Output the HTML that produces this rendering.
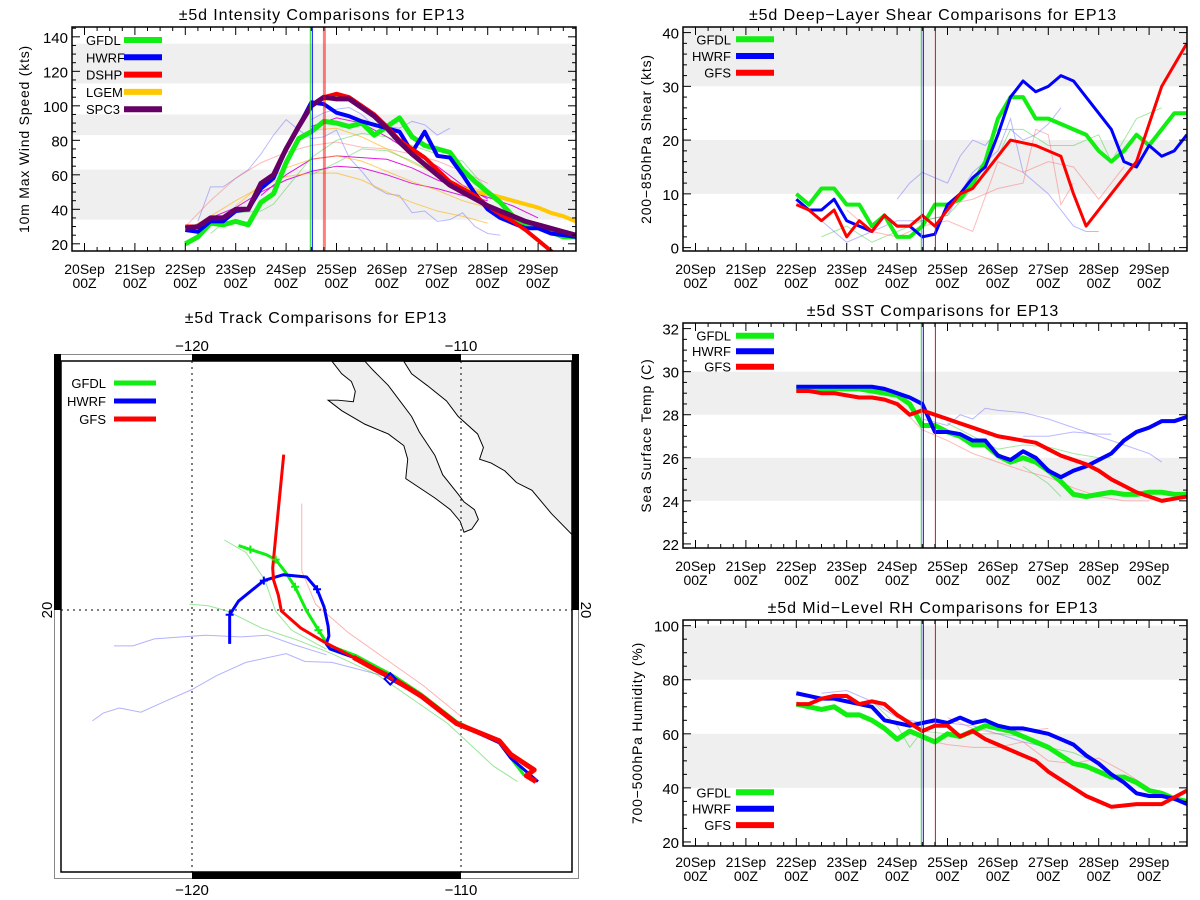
<!DOCTYPE html>
<html><head><meta charset="utf-8"><style>
html,body{margin:0;padding:0;background:#fff;}
svg{display:block;font-family:"Liberation Sans",sans-serif;}
</style></head><body>
<svg id="c" width="1200" height="900" viewBox="0 0 1200 900" xmlns="http://www.w3.org/2000/svg"></svg>
<script>
// ===== shared categories =====
const dayLabels = ["20Sep","21Sep","22Sep","23Sep","24Sep","25Sep","26Sep","27Sep","28Sep","29Sep"];
const times = [2,2.25,2.5,2.75,3,3.25,3.5,3.75,4,4.25,4.5,4.75,5,5.25,5.5,5.75,6,6.25,6.5,6.75,7,7.25,7.5,7.75,8,8.25,8.5,8.75,9,9.25,9.5,9.75];
const initTimes = [4.48, 4.52, 4.76];
// ===== intensity =====
const intGFDL = [20,24,32,31,33,31,44,49,67,81,85,91,90,88,90,83,88,93,82,77,75,73,63,56,50,44,36,30,30,27,24,24];
const intHWRF = [28,27,33,33,39,40,52,58,75,88,102,101,96,94,91,89,87,85,73,85,71,70,60,49,40,35,32,29,29,26,25,24];
const intDSHP = [30,30,35,35,40,40,55,60,75,88,100,105,107,105,100,95,88,80,75,70,63,56,52,48,42,37,33,28,22,16,10,5];
const intLGEM = [null,null,null,null,null,null,null,null,null,null,null,104,105,104,99,94,88,80,73,66,60,55,52,50,49,47,45,43,41,38,36,33];
const intSPC3 = [29,30,35,35,40,40,55,60,75,88,100,105,104,104,99,94,87,79,72,66,60,54,50,46,42,39,36,33,31,29,27,25];
const intThinBlue1 = [[2.25,33],[2.5,53],[2.75,53],[3,58],[3.25,63],[3.5,72],[3.75,83],[4,92],[4.25,86],[4.5,81],[4.75,82],[5,86],[5.25,70],[5.5,62],[5.75,53],[6,49],[6.25,48],[6.5,38],[6.75,39],[7,33],[7.25,34],[7.5,38],[7.75,30],[8,26],[8.25,25]];
const intThinBlue2 = [[4.5,92],[4.75,96],[5,98],[5.25,99],[5.5,95],[5.75,88],[6,88],[6.25,87],[6.5,91],[6.75,89],[7,83],[7.25,87]];
const intThinMag1 = [[2.5,35],[3,41],[3.5,50],[4,57],[4.5,62],[5,65],[5.5,64],[6,60],[6.5,55],[7,52],[7.5,48],[8,45]];
const intThinMag2 = [[3.5,48],[4,60],[4.5,69],[5,71],[5.5,70],[6,69],[6.5,64],[7,57],[7.5,52],[8,47],[8.5,42],[9,35]];
const intThinMag3 = [[4.5,88],[5,93],[5.5,90],[6,82],[6.5,73],[7,65],[7.5,54],[8,46]];
const intThinPink = [[2,30],[2.5,45],[3,58],[3.5,67],[4,73],[4.5,77],[5,79],[5.5,76],[6,75],[6.5,72],[7,68],[7.5,62],[8,55]];
const intThinYel1 = [[2,28],[2.5,36],[3,45],[3.5,53],[4,59],[4.5,61],[5,61],[5.5,57],[6,50],[6.5,44],[7,39],[7.5,36],[8,32]];
const intThinYel2 = [[3,42],[3.5,54],[4,64],[4.5,69],[5,71],[5.5,68],[6,62],[6.5,56],[7,51],[7.5,45],[8,41]];
const intThinYel3 = [[4.5,86],[5,87],[5.5,82],[6,75],[6.5,67],[7,60],[7.5,54],[8,50]];
const intThinGrn1 = [[2.5,26],[3,38],[3.5,39],[3.75,43],[4,52],[4.5,70],[5,80],[5.5,84],[6,82],[6.5,77],[7,72],[7.5,68],[8,51]];
const intThinGrn2 = [[4.5,60],[5,67],[5.5,75],[6,74],[6.5,68],[7,60]];
// ===== shear =====
const shrGFDL = [10,8,11,11,8,8,4,6,2,2,4,8,8,9,12,16,24,28,28,24,24,23,22,21,18,16,18,21,19,22,25,25];
const shrHWRF = [9,7,7,9,5,4,3,6,4,4,2,2.5,8,10,13,15,21,28,31,29,30,32,31,28,25,22,16,15,19,17,18,21];
const shrGFS  = [8,7,5,7,2,5,3,6,4,4,6,4,7,10,11,14,17,20,19.5,19,18,17,10,4,7,10,13,16,23,30,34,38];
const shrThinBlue1 = [[4,9],[4.25,12],[4.5,14],[4.75,13],[5,12],[5.25,17],[5.5,20],[5.75,19],[6,22],[6.25,22],[6.5,20],[6.75,21],[7,23],[7.25,26]];
const shrThinBlue2 = [[2.5,5],[3,1],[3.5,3],[4,5],[4.5,5],[5,6],[5.5,14],[6,18],[6.25,24],[6.5,14],[7,10],[7.5,4],[7.75,3],[8,3]];
const shrThinGrn = [[2.5,2],[3,4],[3.5,1],[4,3],[4.5,5],[5,6],[5.5,11],[6,17],[6.25,22],[6.5,22],[7,19],[7.5,19],[8,21],[8.25,16],[8.75,24],[9.25,26]];
const shrThinRed1 = [[3,7],[3.5,3],[4,2],[4.5,4],[5,5],[5.5,3],[6,16],[6.5,14],[7,16],[7.5,15],[8,9],[8.5,15]];
const shrThinRed2 = [[5,8],[5.5,9],[6,11],[6.5,12],[6.75,22],[7,21],[7.25,8],[7.5,12]];
// ===== SST =====
const sstGFDL = [29.2,29.2,29.2,29.2,29.2,29.2,29.1,29.0,28.9,28.5,27.5,27.5,27.2,27.0,26.6,26.6,26.1,25.8,26.0,25.8,25.4,24.9,24.3,24.2,24.3,24.4,24.3,24.3,24.4,24.4,24.3,24.3];
const sstHWRF = [29.3,29.3,29.3,29.3,29.3,29.3,29.3,29.2,29.0,28.8,28.5,27.2,27.2,27.1,26.8,26.8,26.1,25.9,26.3,26.0,25.4,25.1,25.4,25.6,25.9,26.2,26.8,27.2,27.4,27.7,27.7,27.9];
const sstGFS  = [29.1,29.1,29.0,29.0,28.9,28.8,28.8,28.7,28.5,28.0,28.2,28.0,27.8,27.6,27.4,27.2,27.0,26.9,26.8,26.7,26.4,26.1,25.9,25.7,25.4,25.0,24.7,24.4,24.2,24.0,24.1,24.2];
const sstThinBlue1 = [[4.5,27.8],[5,27.5],[5.25,28.0],[5.5,27.8],[5.75,28.3],[6,28.2],[6.5,28.1],[7,27.8],[7.5,27.4],[8,27.0],[8.5,26.6],[9,26.2],[9.25,25.8]];
const sstThinBlue2 = [[6.5,27.0],[7,27.0],[7.5,27.2],[8,27.1],[8.25,27.1]];
const sstThinRed = [[4,28.5],[4.5,27.3],[5,26.8],[5.5,26.2],[6,25.8],[6.5,25.4],[7,25.1],[7.5,24.6],[8,24.2],[8.5,24.0],[9,24.0]];
const sstThinGrn1 = [[5,27.6],[5.5,27.0],[6,26.4],[6.5,26.6],[7,26.5],[7.5,26.2],[8,26.0],[8.25,26.0]];
const sstThinGrn2 = [[6.5,25.6],[7,24.8],[7.25,24.2]];
// ===== RH =====
const rhGFDL = [71,70,69,70,67,67,65,62,58,61,59,57,60,59,61,63,62,61,59,57,55,52,49,48,46,44,44,42,39,38,36,35];
const rhHWRF = [75,74,73,73,72,71,70,65,64,63,64,65,64,66,64,65,63,62,62,61,60,58,56,52,49,45,42,38,37,37,36,34];
const rhGFS  = [71,71,73,74,74,71,72,71,67,64,61,63,63,59,61,58,56,54,52,50,46,43,40,37,35,33,33.5,34,34,34,36.5,39];
const rhThinBlue = [[2.5,75],[3,76],[3.5,72],[4,66],[4.5,64],[5,64],[5.5,63],[6,60],[6.5,57],[7,55]];
const rhThinGrn = [[3.5,72],[4,63],[4.25,55],[4.5,61],[5,60],[5.5,60],[6,60],[6.5,59],[7,55],[7.5,53],[8,49]];
const rhThinRed1 = [[4.5,58],[5,56],[5.5,55],[6,55],[6.5,57],[7,50],[7.5,49],[8,51],[8.5,46],[9,40]];
const rhThinRed2 = [[5,66],[5.5,62],[6,60],[6.5,61],[7,62]];
// ===== tracks (lon, lat) =====
const trkGFSLon = [-116.59,-116.82,-117.0,-116.97,-116.79,-116.68,-115.95,-115.09,-114.0,-113.21,-112.63,-111.47,-110.17,-108.58,-108.15,-107.28,-107.57,-107.21];
const trkGFSLat = [25.55,23.30,21.50,21.08,20.53,19.97,19.35,18.86,18.31,17.89,17.61,16.92,15.95,15.33,14.84,14.29,14.08,13.87];
const trkHWRFLon = [-118.60,-118.60,-118.27,-117.33,-116.60,-115.74,-115.35,-115.09,-114.94,-114.91,-115.01,-114.87,-114.0,-113.21,-112.63,-111.47,-110.17,-108.58,-108.15,-107.14];
const trkHWRFLat = [18.79,19.83,20.32,21.05,21.26,21.18,20.74,20.11,19.42,19.07,18.79,18.61,18.31,17.89,17.54,16.92,15.95,15.26,14.71,13.87];
const trkGFDLLon = [-118.27,-117.83,-117.25,-116.89,-116.53,-116.17,-115.74,-115.30,-114.94,-113.93,-112.49,-111.47,-110.17,-108.58,-107.64];
const trkGFDLLat = [22.30,22.16,21.98,21.80,21.36,20.83,19.97,19.28,18.75,18.38,17.64,16.99,16.02,15.26,14.08];
const trkThinBlue1 = [[-123.7,16.04],[-123.3,16.32],[-122.7,16.5],[-121.9,16.35],[-121.0,16.74],[-120.0,17.16],[-119.1,17.65],[-118.0,18.13],[-116.5,18.44],[-115.8,18.16],[-114.8,18.13],[-112.6,17.58]];
const trkThinBlue2 = [[-122.9,18.72],[-122.2,18.72],[-121.4,18.97],[-119.5,19.1],[-118.2,19.04],[-117.2,19.1],[-116.2,18.76],[-115.0,18.4]];
const trkThinGrn1 = [[-120.1,20.21],[-119.4,20.15],[-118.7,19.97],[-117.4,19.35],[-116.1,18.93],[-114.8,18.44],[-113.1,17.68],[-110.5,15.95],[-108.8,14.43],[-107.9,13.87]];
const trkThinGrn2 = [[-118.8,22.5],[-118.0,22.06],[-117.3,21.09],[-116.9,19.97],[-116.3,19.28],[-115.0,18.6]];
const trkThinRed = [[-115.92,23.8],[-115.92,21.4],[-115.4,20.2],[-114.2,19.2],[-111.4,17.3],[-110.0,16.2]];
// ===== map ticks =====
const mapLonTicks = [-120,-110];
const mapLatTicks = [20];

const NS="http://www.w3.org/2000/svg";
const svg=document.getElementById('c');
function el(tag,attrs,parent){const e=document.createElementNS(NS,tag);for(const k in attrs)e.setAttribute(k,attrs[k]);(parent||svg).appendChild(e);return e;}
function txt(s,attrs,parent){const e=el('text',attrs,parent);e.textContent=s;return e;}

function panel(cfg){
  const g=el('g',{});
  
  
  const L=cfg.L,R=cfg.R,T=cfg.T,B=cfg.B;
  const x=t=>L+12.5+t*50.4;
  const y=v=>B-(v-cfg.vB)/(cfg.vT-cfg.vB)*(B-T);
  const cid='clip-'+cfg.name;
  const cp=el('clipPath',{id:cid},g);el('rect',{x:L,y:T,width:R-L,height:B-T},cp);
  cfg.bands.forEach(b=>{const y1=y(Math.min(b[1],cfg.vT)),y2=y(b[0]);const r=el('rect',{x:L,y:y1,width:R-L,height:y2-y1,fill:'#efefef'},g);
    
    });
  const tt=txt(cfg.title,{x:(L+R)/2-2,y:cfg.titleY,'text-anchor':'middle','font-size':16,'letter-spacing':'0.9'},g);
  
  
  const yt=txt(cfg.ytitle,{x:0,y:0,'text-anchor':'middle','font-size':14,'letter-spacing':'0.8',transform:`translate(${cfg.ytX},${(T+B)/2}) rotate(-90)`},g);
  
  
  const ln=el('g',{'clip-path':`url(#${cid})`},g);
  cfg.thin.forEach(th=>{const p=el('polyline',{points:th.d.map(q=>x(q[0])+','+y(q[1])).join(' '),fill:'none',stroke:th.c,'stroke-width':1,'stroke-opacity':th.o||0.45},ln);
    
    });
  const icol=['#22dd22','#0000ff','#ff0000'];
  const isInt=cfg.name==='intensity-panel';
  initTimes.forEach((t,i)=>{const l=el('line',{x1:x(t),x2:x(t),y1:T,y2:B,stroke:icol[i],'stroke-width':(i==2&&isInt)?3:1,'stroke-opacity':(i==2&&isInt)?0.5:1},g);
    
    });
  cfg.series.forEach(s=>{let segs=[],cur=[];times.forEach((t,i)=>{const v=s.d[i];if(v==null){if(cur.length)segs.push(cur);cur=[];}else cur.push(x(t)+','+y(v));});if(cur.length)segs.push(cur);
    segs.forEach(sg=>{const p=el('polyline',{points:sg.join(' '),fill:'none',stroke:s.c,'stroke-width':s.w,'stroke-linejoin':'round'},ln);
      
      });});
  el('rect',{x:L,y:T,width:R-L,height:B-T,fill:'none',stroke:'#000','stroke-width':1.5},g);
  for(let k=0;k<=39;k++){const t=k*0.25;const xx=x(t);if(xx>R)break;const len=k%4==0?8:4;
    el('line',{x1:xx,x2:xx,y1:B,y2:B-len,stroke:'#000','stroke-width':1},g);
    el('line',{x1:xx,x2:xx,y1:T,y2:T+len,stroke:'#000','stroke-width':1},g);}
  dayLabels.forEach((d,i)=>{const xx=x(i);
    const a=txt(d,{x:xx,y:cfg.xlY,'text-anchor':'middle','font-size':14},g);
    
    
    const b=txt('00Z',{x:xx,y:cfg.xlY+14,'text-anchor':'middle','font-size':14},g);
    
    });
  for(let v=Math.ceil(cfg.vB/cfg.minor)*cfg.minor;v<=cfg.vT;v+=cfg.minor){const yy=y(v);const maj=Math.abs(v/cfg.major-Math.round(v/cfg.major))<1e-6;const len=maj?8:4;
    el('line',{x1:L,x2:L+len,y1:yy,y2:yy,stroke:'#000','stroke-width':1},g);
    el('line',{x1:R,x2:R-len,y1:yy,y2:yy,stroke:'#000','stroke-width':1},g);}
  cfg.yticks.forEach(v=>{const a=txt(String(v),{x:L-4,y:y(v)+6,'text-anchor':'end','font-size':15},g);
    
    });
  cfg.legend.forEach((s,i)=>{const ly=cfg.legY+i*cfg.legDy;
    const lg=el('g',{},g);
    
    
    txt(s.n,{x:cfg.legTx,y:ly+5,'text-anchor':cfg.legAnchor,'font-size':13,'fill':'#000'},lg);
    el('line',{x1:cfg.legX1,x2:cfg.legX2,y1:ly,y2:ly,stroke:s.c,'stroke-width':6},lg);});
}
const G='#11ee11',Bl='#0000ff',Rd='#ff0000',Y='#ffc800',P='#660066';
const iS=[{n:'GFDL',d:intGFDL,c:G,w:5},{n:'HWRF',d:intHWRF,c:Bl,w:4},{n:'DSHP',d:intDSHP,c:Rd,w:4},{n:'LGEM',d:intLGEM,c:Y,w:4},{n:'SPC3',d:intSPC3,c:P,w:5}];
panel({name:'intensity-panel',L:72,R:576,T:27,B:251,vB:15.83,vT:145.7,title:'±5d Intensity Comparisons for EP13',titleY:20,ytitle:'10m Max Wind Speed (kts)',ytX:29,
 bands:[[34,63],[83,95],[113,136]],major:20,minor:5,yticks:[20,40,60,80,100,120,140],xlY:274,
 thin:[{d:intThinBlue1,c:'#6666ff'},{d:intThinBlue2,c:'#6666ff'},{d:intThinMag1,c:'#dd00dd',o:0.9},{d:intThinMag2,c:'#dd00dd',o:0.9},{d:intThinMag3,c:'#dd00dd',o:0.9},{d:intThinPink,c:'#ff6666'},{d:intThinYel1,c:'#ffb000',o:0.6},{d:intThinYel2,c:'#ffb000',o:0.6},{d:intThinYel3,c:'#ffb000',o:0.6},{d:intThinGrn1,c:'#33cc33'},{d:intThinGrn2,c:'#33cc33'}],
 series:[iS[3],iS[0],iS[1],iS[2],iS[4]],legend:iS,legY:40,legDy:17.3,legTx:86,legAnchor:'start',legX1:124,legX2:162});
const sS=[{n:'GFDL',d:shrGFDL,c:G,w:4},{n:'HWRF',d:shrHWRF,c:Bl,w:3},{n:'GFS',d:shrGFS,c:Rd,w:3}];
panel({name:'shear-panel',L:683,R:1187,T:27,B:251,vB:-0.63,vT:41.04,title:'±5d Deep−Layer Shear Comparisons for EP13',titleY:20,ytitle:'200−850hPa Shear (kts)',ytX:651,
 bands:[[10,20],[30,45]],major:10,minor:2,yticks:[0,10,20,30,40],xlY:274,
 thin:[{d:shrThinBlue1,c:'#6666ff'},{d:shrThinBlue2,c:'#6666ff'},{d:shrThinGrn,c:'#33cc33'},{d:shrThinRed1,c:'#ff6666'},{d:shrThinRed2,c:'#ff6666'}],
 series:sS,legend:sS,legY:39.3,legDy:16.7,legTx:731,legAnchor:'end',legX1:736,legX2:774});
const tS=[{n:'GFDL',d:sstGFDL,c:G,w:5},{n:'HWRF',d:sstHWRF,c:Bl,w:4},{n:'GFS',d:sstGFS,c:Rd,w:4}];
panel({name:'sst-panel',L:683,R:1187,T:323,B:548,vB:21.81,vT:32.26,title:'±5d SST Comparisons for EP13',titleY:316,ytitle:'Sea Surface Temp (C)',ytX:651,
 bands:[[24,26],[28,30]],major:2,minor:0.5,yticks:[22,24,26,28,30,32],xlY:571,
 thin:[{d:sstThinBlue1,c:'#6666ff'},{d:sstThinBlue2,c:'#6666ff'},{d:sstThinRed,c:'#ff6666'},{d:sstThinGrn1,c:'#33cc33'},{d:sstThinGrn2,c:'#33cc33'}],
 series:tS,legend:tS,legY:335.7,legDy:15.5,legTx:731,legAnchor:'end',legX1:736,legX2:774});
const rS=[{n:'GFDL',d:rhGFDL,c:G,w:5},{n:'HWRF',d:rhHWRF,c:Bl,w:4},{n:'GFS',d:rhGFS,c:Rd,w:4}];
panel({name:'rh-panel',L:683,R:1187,T:620,B:846,vB:18.5,vT:102.1,title:'±5d Mid−Level RH Comparisons for EP13',titleY:613,ytitle:'700−500hPa Humidity (%)',ytX:642,
 bands:[[40,60],[80,100]],major:20,minor:5,yticks:[20,40,60,80,100],xlY:867,
 thin:[{d:rhThinBlue,c:'#6666ff'},{d:rhThinGrn,c:'#33cc33'},{d:rhThinRed1,c:'#ff6666'},{d:rhThinRed2,c:'#ff6666'}],
 series:rS,legend:rS,legY:792.3,legDy:16.4,legTx:731,legAnchor:'end',legX1:736,legX2:774});

(function(){
  const g=el('g',{});
  
  
  const mx=lon=>192+(lon+120)*26.9;
  const my=lat=>610-(lat-20)*28;
  const t=txt('±5d Track Comparisons for EP13',{x:316,y:323,'text-anchor':'middle','font-size':16,'letter-spacing':'0.9'},g);
  
  
  const cp=el('clipPath',{id:'mapclip'},g);el('rect',{x:61,y:361,width:511,height:511},cp);
  const lw=el('g',{'clip-path':'url(#mapclip)'},g);
  const land=el('g',{transform:'translate(0,300) scale(0.3883)'},lw);
  const baja=el('polygon',{points:'855,158 880,190 905,210 915,235 910,262 870,258 845,258 880,285 940,320 1000,345 1040,375 1050,410 1045,460 1060,470 1120,510 1160,540 1185,570 1195,598 1215,590 1232,565 1222,540 1195,520 1180,500 1140,450 1120,400 1080,340 1060,300 1030,260 1000,220 960,180 940,158',fill:'#efefef',stroke:'#000','stroke-width':2.5},land);
  
  
  const main=el('polygon',{points:'1040,158 1060,190 1100,220 1150,260 1180,300 1230,345 1245,380 1235,410 1265,420 1300,440 1330,470 1370,490 1420,550 1474,605 1474,158',fill:'#efefef',stroke:'#000','stroke-width':2.5},land);
  
  
  mapLonTicks.forEach(l=>{el('line',{x1:mx(l),x2:mx(l),y1:361,y2:872,stroke:'#000','stroke-width':1,'stroke-dasharray':'2,4'},g);});
  mapLatTicks.forEach(l=>{el('line',{x1:61,x2:572,y1:my(l),y2:my(l),stroke:'#000','stroke-width':1,'stroke-dasharray':'2,4'},g);});
  el('rect',{x:54.5,y:354.5,width:524,height:524,fill:'none',stroke:'#888','stroke-width':1},g);
  el('rect',{x:61,y:361,width:511,height:511,fill:'none',stroke:'#000','stroke-width':1.5},g);
  el('rect',{x:mx(-120),y:354,width:mx(-110)-mx(-120),height:7,fill:'#000'},g);
  el('rect',{x:mx(-120),y:872,width:mx(-110)-mx(-120),height:7,fill:'#000'},g);
  el('rect',{x:54,y:354,width:7,height:my(20)-354,fill:'#000'},g);
  el('rect',{x:572,y:354,width:7,height:my(20)-354,fill:'#000'},g);
  mapLonTicks.forEach(l=>{
    const a=txt('−'+Math.abs(l),{x:mx(l),y:351,'text-anchor':'middle','font-size':15},g);
    
    
    const b=txt('−'+Math.abs(l),{x:mx(l),y:895,'text-anchor':'middle','font-size':15},g);
    
    });
  mapLatTicks.forEach(l=>{
    const a=txt(String(l),{x:0,y:0,'text-anchor':'middle','font-size':15,transform:`translate(52,${my(l)}) rotate(-90)`},g);
    
    
    const b=txt(String(l),{x:0,y:0,'text-anchor':'middle','font-size':15,transform:`translate(581,${my(l)}) rotate(90)`},g);
    
    });
  const tg=el('g',{'clip-path':'url(#mapclip)'},g);
  [[trkThinBlue1,'#6666ff'],[trkThinBlue2,'#6666ff'],[trkThinGrn1,'#33cc33'],[trkThinGrn2,'#33cc33'],[trkThinRed,'#ff6666']].forEach(a=>{
    const p=el('polyline',{points:a[0].map(q=>mx(q[0])+','+my(q[1])).join(' '),fill:'none',stroke:a[1],'stroke-width':1,'stroke-opacity':0.5},tg);
    
    });
  const tr=[[trkGFDLLon,trkGFDLLat,G,3,'gfdl'],[trkHWRFLon,trkHWRFLat,Bl,3,'hwrf'],[trkGFSLon,trkGFSLat,Rd,3,'gfs']];
  tr.forEach(a=>{const p=el('polyline',{points:a[0].map((lo,i)=>mx(lo)+','+my(a[1][i])).join(' '),fill:'none',stroke:a[2],'stroke-width':a[3],'stroke-linejoin':'round'},tg);
    
    });
  const thick=el('polyline',{points:trkGFSLon.slice(8).map((lo,i)=>mx(lo)+','+my(trkGFSLat.slice(8)[i])).join(' '),fill:'none',stroke:Rd,'stroke-width':5,'stroke-linejoin':'round'},tg);
  
  
  [[trkHWRFLon,trkHWRFLat,Bl,[1,3,6]],[trkGFDLLon,trkGFDLLat,G,[1,3,5,7]]].forEach(a=>{a[3].forEach(i=>{const cx=mx(a[0][i]),cy=my(a[1][i]);
    const m=el('path',{d:`M${cx-4},${cy}H${cx+4}M${cx},${cy-4}V${cy+4}`,stroke:a[2],'stroke-width':2},tg);
    
    });});
  const dm=el('rect',{x:mx(-112.63)-4,y:my(17.54)-4,width:8,height:8,fill:'none',stroke:Bl,'stroke-width':2,transform:`rotate(45 ${mx(-112.63)} ${my(17.54)})`},tg);
  
  
  [['GFDL',G],['HWRF',Bl],['GFS',Rd]].forEach((s,i)=>{const ly=383+i*18;
    const lg=el('g',{},g);
    
    
    txt(s[0],{x:106,y:ly+5,'text-anchor':'end','font-size':13},lg);
    el('line',{x1:114,x2:156,y1:ly,y2:ly,stroke:s[1],'stroke-width':5},lg);});
})();
</script>
</body></html>
